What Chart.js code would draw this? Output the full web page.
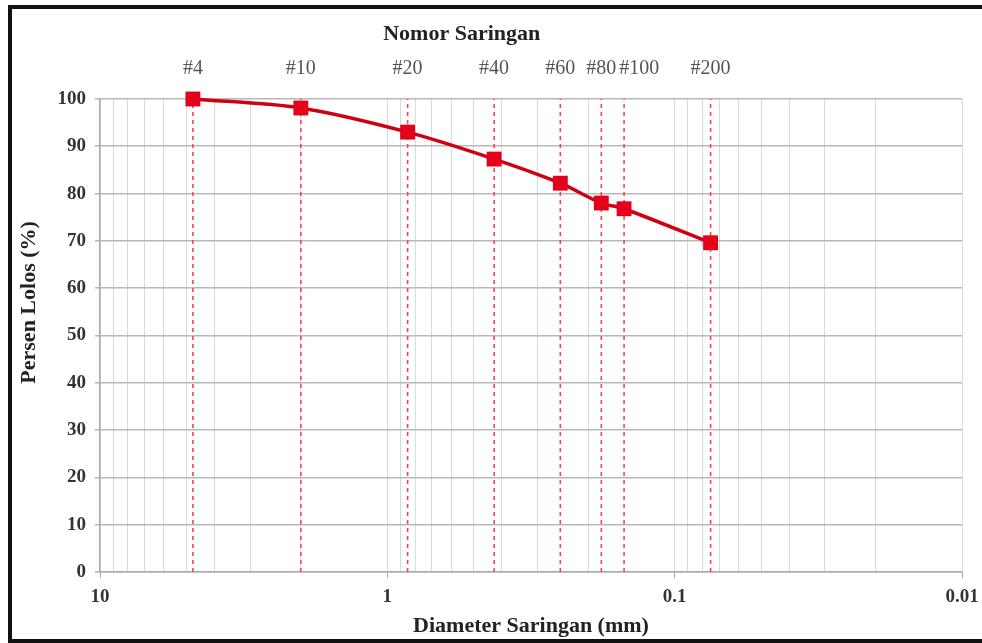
<!DOCTYPE html>
<html>
<head>
<meta charset="utf-8">
<script src="https://cdn.jsdelivr.net/npm/chart.js@4.4.1/dist/chart.umd.min.js"></script>
<style>
    html, body { margin: 0; padding: 0; background: #fff; }
    #bingkai {
        position: absolute; left: 8px; top: 5px; width: 990px; height: 630px;
        border-left: 4px solid #111; border-top: 4px solid #111; border-bottom: 4px solid #111;
    }
    #graficoSaringan { position: absolute; left: 0; top: 0; }
</style>
</head>
<body>
<div id="bingkai"></div>
<canvas id="graficoSaringan" width="982" height="643"></canvas>
<script>
const nomorSaringan = ['#4', '#10', '#20', '#40', '#60', '#80', '#100', '#200'];
const diameterSaringan = [4.75, 2.0, 0.85, 0.425, 0.25, 0.18, 0.15, 0.075];
const persenLolos = [100, 98.1, 93.0, 87.3, 82.2, 78.0, 76.8, 69.6];

const labelBawah = [10, 1, 0.1, 0.01];
const dekade = [0.01, 0.1, 1];
const labelKiri = [0, 10, 20, 30, 40, 50, 60, 70, 80, 90, 100];

// garis grid log: 1..9 di tiap dekade, ditambah 10
const nilaiGrid = [];
dekade.forEach(d => {
    for (let i = 1; i <= 9; i++) nilaiGrid.push(+(i * d).toFixed(4));
});
nilaiGrid.push(10);

const fonteSerif = "'Liberation Serif', 'Times New Roman', serif";
Chart.defaults.font.family = fonteSerif;

const ehPangkatSepuluh = v => Math.abs(Math.log10(v) - Math.round(Math.log10(v))) < 1e-9;

const datasetsGaris = diameterSaringan.map(d => ({
    data: [{ x: d, y: 0 }, { x: d, y: 100 }],
    showLine: true,
    borderColor: '#ff4050',
    borderWidth: 1.6,
    borderDash: [4, 4],
    pointRadius: 0,
    order: 1
}));

// nomor saringan, judul atas dan judul sumbu y
const labelAtas = {
    id: 'labelAtas',
    afterDraw(chart) {
        const skala = chart.scales.x;
        const ctx = chart.ctx;
        ctx.save();
        ctx.textBaseline = 'middle';
        ctx.textAlign = 'left';
        ctx.font = '20px ' + fonteSerif;
        ctx.fillStyle = '#555';
        let batasKanan = -Infinity;
        nomorSaringan.forEach((teks, i) => {
            const w = ctx.measureText(teks).width;
            let kiri = skala.getPixelForValue(diameterSaringan[i]) - w / 2;
            if (kiri < batasKanan + 3) kiri = batasKanan + 3;
            ctx.fillText(teks, kiri, 69);
            batasKanan = kiri + w;
        });

        const x1 = skala.getPixelForValue(diameterSaringan[0]);
        const x2 = skala.getPixelForValue(diameterSaringan[diameterSaringan.length - 1]);
        ctx.font = 'bold 22px ' + fonteSerif;
        ctx.fillStyle = '#222';
        ctx.textAlign = 'center';
        ctx.fillText('Nomor Saringan', (x1 + x2) / 2 + 10, 34);

        ctx.translate(29, chart.scales.y.getPixelForValue(57));
        ctx.rotate(-Math.PI / 2);
        ctx.fillText('Persen Lolos (%)', 0, 0);
        ctx.restore();
    }
};

const chartSaringan = new Chart(document.getElementById('graficoSaringan'), {
    type: 'scatter',
    data: {
        datasets: [{
            data: diameterSaringan.map((d, i) => ({ x: d, y: persenLolos[i] })),
            showLine: true,
            borderColor: '#cf0010',
            backgroundColor: '#e4001a',
            borderWidth: 3.5,
            pointStyle: 'rect',
            pointRadius: 10.5,
            pointBorderWidth: 0,
            tension: 0.3,
            clip: false,
            order: 0
        }, ...datasetsGaris]
    },
    plugins: [labelAtas],
    options: {
        responsive: false,
        animation: false,
        layout: { padding: { left: 12, right: 20, top: 99, bottom: 0 } },
        plugins: { legend: { display: false }, tooltip: { enabled: false } },
        scales: {
            x: {
                type: 'logarithmic', position: 'bottom', reverse: true, min: 0.01, max: 10,
                afterBuildTicks: axis => { axis.ticks = nilaiGrid.map(v => ({ value: v, major: ehPangkatSepuluh(v) })); },
                afterFit: axis => { axis.height = 71; },
                grid: {
                    color: '#dadada', lineWidth: 1, tickLength: 6,
                    tickColor: c => (c.tick && ehPangkatSepuluh(c.tick.value)) ? '#aaa' : 'rgba(0,0,0,0)'
                },
                border: { color: '#aaa', width: 1.5 },
                ticks: {
                    autoSkip: false, maxRotation: 0, padding: 8,
                    color: '#333', font: { size: 19, weight: 'bold' },
                    callback: v => labelBawah.includes(v) ? String(v) : ''
                },
                title: {
                    display: true, text: 'Diameter Saringan (mm)', color: '#222',
                    font: { size: 22, weight: 'bold' }, padding: { top: 0, bottom: 3 }
                }
            },
            y: {
                min: 0, max: 100,
                afterBuildTicks: axis => { axis.ticks = labelKiri.map(v => ({ value: v })); },
                afterFit: axis => { axis.width = 88; },
                grid: { color: '#b8b8b8', lineWidth: 1.6, tickLength: 5 },
                border: { color: '#aaa', width: 1.5 },
                ticks: { padding: 9, color: '#333', font: { size: 19, weight: 'bold' } }
            }
        }
    }
});
</script>
</body>
</html>
